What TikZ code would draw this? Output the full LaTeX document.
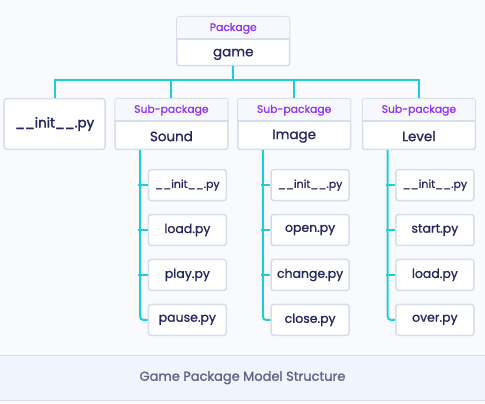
\documentclass[tikz,border=0pt]{standalone}
\usepackage{fontspec}
\setmainfont{Poppins}[FakeBold=1]
\newfontfamily\heavyfont{Poppins}[FakeBold=2.2]
\usepackage{tikz}
\definecolor{pagebg}{HTML}{F9FAFD}
\definecolor{boxline}{HTML}{D6DDE9}
\definecolor{headfill}{HTML}{F7F8FE}
\definecolor{tagpurple}{HTML}{9333EA}
\definecolor{navy}{HTML}{25265E}
\definecolor{linkcyan}{HTML}{1CCFD6}
\definecolor{footfill}{HTML}{EFF4FD}
\definecolor{foottext}{HTML}{5C6382}
\newcommand{\initfile}{{\fontsize{11}{13}\selectfont\_\_init\_\_.py}}

\begin{document}
\begin{tikzpicture}[x=1pt, y=-1pt,
  pkgbox/.style={draw=boxline, line width=1.5pt, rounded corners=2.5pt, fill=white, inner sep=0pt},
  filebox/.style={pkgbox, minimum width=78pt, minimum height=31pt, text=navy, font=\fontsize{12.5}{14}\selectfont},
  tag/.style={text=tagpurple, font=\fontsize{10.8}{12}\selectfont},
  pkgname/.style={text=navy, font=\fontsize{13.5}{15}\selectfont},
  link/.style={draw=linkcyan, line width=2pt}]
  \fill[pagebg] (0,0) rectangle (485,404);
  % footer band
  \fill[footfill] (0,356) rectangle (485,401);
  \draw[boxline, line width=1pt] (0,356) -- (485,356) (0,401) -- (485,401);
  \node[text=foottext, font=\fontsize{13}{15}\selectfont] (caption) at (242.5,378.5) {Game Package Model Structure};
  % top package
  \node[pkgbox, anchor=north west, minimum width=113pt, minimum height=49pt] (game) at (176,16) {};
  \fill[headfill, rounded corners=1.5pt] ([shift={(1,1)}]game.north west) rectangle ([shift={(-1,23)}]game.north east);
  \draw[boxline, line width=1.5pt] ([yshift=-23pt]game.north west) -- ([yshift=-23pt]game.north east);
  \node[tag] (game-tag) at ([yshift=-12.5pt]game.north) {Package};
  \node[pkgname] (game-name) at ([yshift=12pt]game.south) {game};
  % plain module
  \node[pkgbox, anchor=north west, minimum width=101pt, minimum height=51pt, text=navy,
    font=\fontsize{13.5}{15}\heavyfont] (init) at (3,98) {\_\_init\_\_.py};
  % sub-packages with their files
  \foreach \x/\nm/\lbl/\files in {114/sound/Sound/{\initfile,load.py,play.py,pause.py},
      237/image/Image/{\initfile,open.py,change.py,close.py},
      362/level/Level/{\initfile,start.py,load.py,over.py}} {
    \node[pkgbox, anchor=north west, minimum width=113pt, minimum height=51pt] (\nm) at (\x,98) {};
    \fill[headfill, rounded corners=1.5pt] ([shift={(1,1)}]\nm.north west) rectangle ([shift={(-1,23)}]\nm.north east);
    \draw[boxline, line width=1.5pt] ([yshift=-23pt]\nm.north west) -- ([yshift=-23pt]\nm.north east);
    \node[tag] (\nm-tag) at ([yshift=-12.5pt]\nm.north) {Sub-package};
    \node[pkgname] (\nm-name) at ([yshift=14pt]\nm.south) {\lbl};
    \foreach \f [count=\i] in \files
      \node[filebox, anchor=east] (\nm-\i) at (\x+113, 140.5+45*\i) {\f};
    \draw[link, rounded corners=3pt] ([xshift=26pt]\nm.south west) |- (\nm-4.west);
    \foreach \i in {1,2,3}
      \draw[link] (\nm-\i.west) -- ++(-9.5,0);
  }
  % tree lines
  \draw[link] (init.north) -- ++(0,-18) coordinate (bar) -| (level.north);
  \draw[link] (game.south) -- (game.south |- bar);
  \foreach \nm in {sound,image}
    \draw[link] (\nm.north) -- (\nm.north |- bar);
\end{tikzpicture}
\end{document}
